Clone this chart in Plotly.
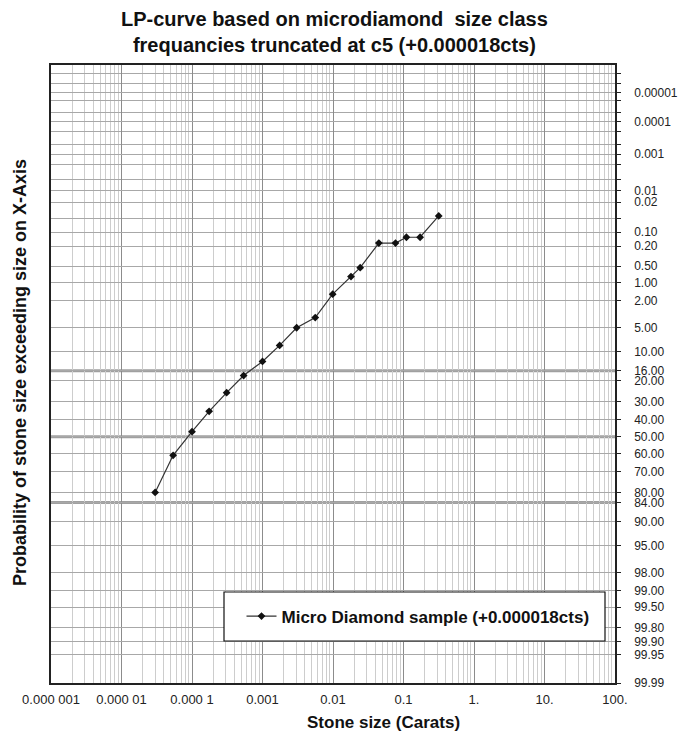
import plotly.graph_objects as go
from statistics import NormalDist

# ---- data ----
stone_size_ct = [3.0e-5, 5.4e-5, 1.0e-4, 1.75e-4, 3.1e-4, 5.4e-4, 1.0e-3, 1.75e-3,
                 3.05e-3, 5.6e-3, 0.0099, 0.018, 0.0243, 0.0447, 0.077, 0.11, 0.172, 0.316]
prob_exceed_pct = [80.0, 61.1, 47.0, 35.1, 25.3, 17.8, 12.8, 8.4,
                   5.0, 3.6, 1.57, 0.78, 0.535, 0.173, 0.173, 0.13, 0.13, 0.043]

x_tick_vals = [1e-6, 1e-5, 1e-4, 1e-3, 1e-2, 1e-1, 1, 10, 100]
x_tick_text = ["0.000 001", "0.000 01", "0.000 1", "0.001", "0.01", "0.1", "1.", "10.", "100."]

y_tick_pct = [0.00001, 0.0001, 0.001, 0.01, 0.02, 0.10, 0.20, 0.50, 1.00, 2.00, 5.00, 10.00,
              16.00, 20.00, 30.00, 40.00, 50.00, 60.00, 70.00, 80.00, 84.00, 90.00, 95.00,
              98.00, 99.00, 99.50, 99.80, 99.90, 99.95, 99.99]
y_tick_text = ["0.00001", "0.0001", "0.001", "0.01", "0.02", "0.10", "0.20", "0.50", "1.00",
               "2.00", "5.00", "10.00", "16.00", "20.00", "30.00", "40.00", "50.00", "60.00",
               "70.00", "80.00", "84.00", "90.00", "95.00", "98.00", "99.00", "99.50", "99.80",
               "99.90", "99.95", "99.99"]
y_minor_pct = [0.000002, 0.000005, 0.00002, 0.00005, 0.0002, 0.0005, 0.002, 0.005, 0.05]
y_heavy_pct = [16.0, 50.0, 84.0]
y_range_pct = [99.99, 0.000001]

title_text = "LP-curve based on microdiamond  size class<br>frequancies truncated at c5 (+0.000018cts)"
x_title = "Stone size (Carats)"
y_title = "Probability of stone size exceeding size on X-Axis"
series_name = "Micro Diamond sample (+0.000018cts)"

nd = NormalDist()
def z(p):
    return nd.inv_cdf(p / 100.0)

FONT = "Liberation Sans, Arial, sans-serif"
L, R, T, B = 51, 615, 65, 683
PW, PH = R - L, B - T

def px(xp):
    return (xp - L) / PW

def py(yp):
    return (B - yp) / PH

fig = go.Figure()
fig.add_trace(go.Scatter(
    x=stone_size_ct, y=[z(p) for p in prob_exceed_pct],
    mode="lines+markers",
    name="<b>" + series_name + "</b>",
    line=dict(color="#333333", width=1.2),
    marker=dict(symbol="diamond", size=6, color="#111111"),
))

shapes = []
for p in y_heavy_pct:
    shapes.append(dict(type="line", xref="paper", x0=0, x1=1, yref="y", y0=z(p), y1=z(p),
                       line=dict(color="#a0a0a0", width=3), layer="below"))
# legend box
shapes.append(dict(type="rect", xref="paper", yref="paper",
                   x0=px(224), x1=px(605), y0=py(641), y1=py(592),
                   fillcolor="white", line=dict(color="#111111", width=1.2), layer="above"))

x_minor = [k * 10 ** d for d in range(-6, 2) for k in range(2, 10)]

fig.update_layout(
    width=686, height=735,
    margin=dict(l=L, r=686 - R, t=T, b=735 - B, autoexpand=False),
    paper_bgcolor="white", plot_bgcolor="white",
    font=dict(family=FONT, color="#222222"),
    showlegend=True,
    legend=dict(x=px(418), y=py(616.5), xanchor="center", yanchor="middle",
                bgcolor="rgba(0,0,0,0)", borderwidth=0,
                font=dict(size=17, color="#111111", family=FONT)),
    shapes=shapes,
    xaxis=dict(type="log", range=[-6, 2], tickmode="array", tickvals=x_tick_vals, ticktext=x_tick_text,
               showgrid=True, gridcolor="#8c8c8c", gridwidth=1,
               minor=dict(tickvals=x_minor, showgrid=True, gridcolor="#cdcdcd", gridwidth=1, ticks=""),
               showline=True, mirror=True, linecolor="#222222", linewidth=1.5,
               ticks="", tickfont=dict(size=13, color="#222222"), automargin=False,
               ticklabelstandoff=4, zeroline=False),
    yaxis=dict(range=[z(y_range_pct[0]), z(y_range_pct[1])], side="right",
               tickmode="array", tickvals=[z(p) for p in y_tick_pct], ticktext=y_tick_text,
               showgrid=True, gridcolor="#a8a8a8", gridwidth=1.3,
               minor=dict(tickvals=[z(p) for p in y_minor_pct], showgrid=True, gridcolor="#a8a8a8",
                          gridwidth=1.3, ticks="outside", ticklen=4, tickcolor="#222222"),
               ticks="outside", ticklen=4, tickcolor="#222222", ticklabelstandoff=11,
               showline=True, mirror=True, linecolor="#222222", linewidth=1.5,
               tickfont=dict(size=12, color="#222222"), zeroline=False, automargin=False),
    annotations=[
        dict(text="<b>" + title_text + "</b>", xref="paper", yref="paper",
             x=px(334), y=py(32), xanchor="center", yanchor="middle", showarrow=False,
             font=dict(size=20, color="#111111", family=FONT)),
        dict(text="<b>" + x_title + "</b>", xref="paper", yref="paper",
             x=px(383), y=py(722), xanchor="center", yanchor="middle", showarrow=False,
             font=dict(size=17, color="#111111", family=FONT)),
        dict(text="<b>" + y_title + "</b>", xref="paper", yref="paper",
             x=px(20), y=py(373), textangle=-90, showarrow=False,
             xanchor="center", yanchor="middle",
             font=dict(size=18, color="#111111", family=FONT)),
    ],
)

fig.write_html("out.html", config={"displayModeBar": False},
               post_script="document.body.style.margin='0';")
